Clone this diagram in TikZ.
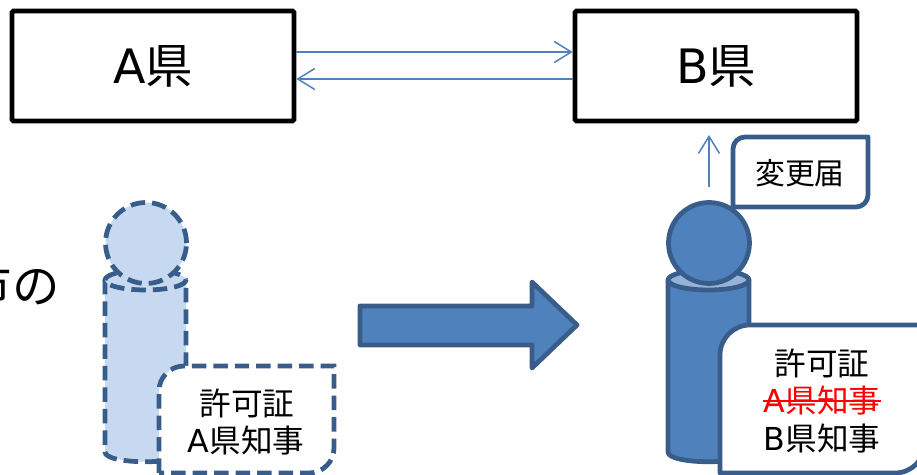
\documentclass[tikz,border=0pt]{standalone}
\usepackage{fontspec}
\setmainfont{Noto Sans CJK JP}
\newfontfamily\latinfont{DejaVu Sans}
\usetikzlibrary{arrows.meta}
\usetikzlibrary{calc}
\definecolor{kenblue}{HTML}{4F81BD}
\definecolor{kenedge}{HTML}{385D8A}
\definecolor{kenpale}{HTML}{C6D9F1}
\definecolor{kenface}{HTML}{95B3D7}
\tikzset{
  kenbox/.style = {draw = black, line width = 0.095cm, minimum width = 5.64cm,
    minimum height = 2.2cm, rounded corners = 0.03cm, inner sep = 0,
    font = \fontsize{27}{27}\selectfont},
  thinarrow/.style = {draw = kenblue, line width = 0.03cm,
    -{Straight Barb[length = 0.34cm, width = 0.42cm]}},
  solidedge/.style = {draw = kenedge, line width = 0.095cm, line join = round},
  dashedge/.style = {draw = kenedge, line width = 0.095cm,
    dash pattern = on 0.29cm off 0.14cm},
  smalltext/.style = {inner sep = 0, font = \fontsize{18}{18}\selectfont},
  head/.style = {circle, minimum size = 1.62cm, inner sep = 0}
}
\begin{document}
\begin{tikzpicture}[x = 0.02cm, y = -0.02cm]
  \useasboundingbox (0, 0) rectangle (917, 475);

  % prefectures
  \node[kenbox] (A) at (153, 66) {{\latinfont A}県};
  \node[kenbox] (B) at (716, 66) {{\latinfont B}県};
  \draw[thinarrow] ($(A.east)+(0, -14)$) -- ($(B.west)+(0, -14)$);
  \draw[thinarrow] ($(B.west)+(0, 13)$) -- ($(A.east)+(0, 13)$);

  \node[font = \fontsize{27}{27}\selectfont, inner sep = 0, anchor = east]
  (shi) at (60, 285) {市の};

  % left person
  \path[fill = kenpale] (105, 280) -- (105, 452) .. controls (105, 465) and
  (186, 465) .. (186, 452) -- (186, 280) -- cycle;
  \draw[dashedge] (105, 280) -- (105, 452) .. controls (105, 465) and
  (186, 465) .. (186, 452) -- (186, 280);
  \draw[dashedge, fill = kenpale] (145.5, 280) ellipse [x radius = 40.5,
  y radius = 10];
  \node[head, dashedge, fill = kenpale] (headA) at (146, 243) {};

  \draw[dashedge, fill = white] (159, 473) -- (159, 391) arc[start angle = 180,
  end angle = 270, radius = 25] -- (334, 366) -- (334, 448) arc[start angle = 0,
  end angle = 90, radius = 25] -- cycle;
  \node[smalltext] (permitA1) at (247, 403) {許可証};
  \node[smalltext] (permitA2) at (246, 441) {{\latinfont A}県知事};

  % big arrow
  \draw[solidedge, fill = kenblue] (360, 306) -- (532, 306) -- (532, 282) --
  (577, 325) -- (532, 368) -- (532, 345) -- (360, 345) -- cycle;

  % right person
  \coordinate (upfrom) at (709, 187);
  \coordinate (upto) at (709, 135);
  \draw[thinarrow] (upfrom) -- (upto);

  \draw[solidedge, fill = white] (733, 207) -- (733, 149) arc[start angle = 180,
  end angle = 270, radius = 12] -- (868, 137) -- (868, 195) arc[start angle = 0,
  end angle = 90, radius = 12] -- cycle;
  \node[smalltext, font = \fontsize{17}{17}\selectfont] (notice) at (800, 173)
  {変更届};

  \draw[solidedge, fill = kenblue] (668, 280) -- (668, 452) .. controls
  (668, 465) and (749, 465) .. (749, 452) -- (749, 280) -- cycle;
  \draw[solidedge, fill = kenface] (708.5, 280) ellipse [x radius = 40.5,
  y radius = 10];
  \node[head, solidedge, fill = kenblue] (headB) at (709, 243) {};

  \draw[solidedge, fill = white] (720, 473) -- (720, 355) arc[start angle = 180,
  end angle = 270, radius = 30] -- (925, 325) -- (925, 443) arc[start angle = 0,
  end angle = 90, radius = 30] -- cycle;
  \node[smalltext] (permitB1) at (822, 363) {許可証};
  \node[smalltext, red] (permitB2) at (822, 401) {{\latinfont A}県知事};
  \node[smalltext] (permitB3) at (822, 439) {{\latinfont B}県知事};
  \draw[red, line width = 0.035cm] (permitB2.west) -- (permitB2.east);
\end{tikzpicture}
\end{document}
